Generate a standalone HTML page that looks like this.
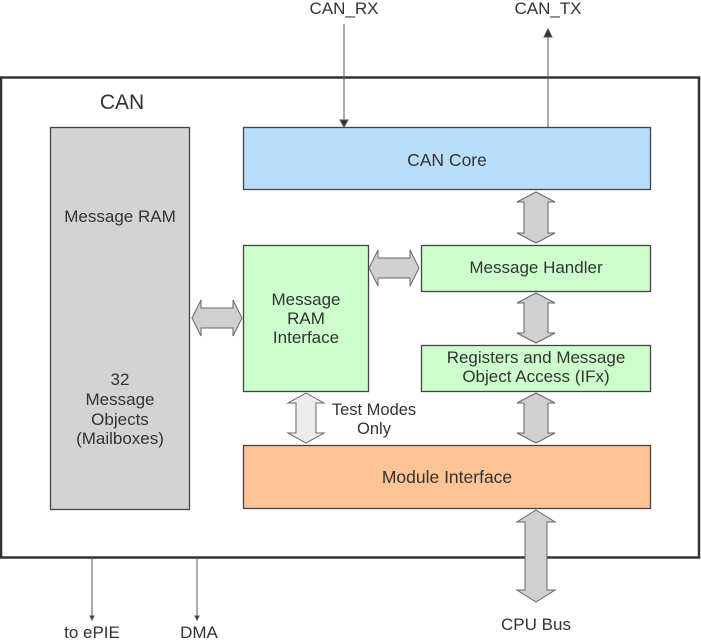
<!DOCTYPE html>
<html><head><style>body{margin:0;background:#fff}svg{display:block}text{font-family:"Liberation Sans",sans-serif;fill:#333}</style></head>
<body>
<svg width="701" height="640" viewBox="0 0 701 640" xmlns="http://www.w3.org/2000/svg">
<rect x="1" y="77.5" width="698" height="480" fill="#fff" stroke="#333" stroke-width="2.5"/>
<text x="122" y="109" font-size="21" text-anchor="middle">CAN</text>
<rect x="50.5" y="127.5" width="139" height="382" fill="#d3d3d3" stroke="#444" stroke-width="1.3"/>
<text x="120" y="222" font-size="17" text-anchor="middle">Message RAM</text>
<text x="120" y="385" font-size="17" text-anchor="middle">32</text>
<text x="120" y="405" font-size="17" text-anchor="middle">Message</text>
<text x="120" y="425" font-size="17" text-anchor="middle">Objects</text>
<text x="120" y="444" font-size="17" text-anchor="middle">(Mailboxes)</text>
<rect x="243.5" y="127.5" width="407" height="62" fill="#b8defc" stroke="#444" stroke-width="1.3"/>
<text x="447" y="166" font-size="17.5" text-anchor="middle">CAN Core</text>
<rect x="421.5" y="245.5" width="229" height="46" fill="#ccffcc" stroke="#444" stroke-width="1.3"/>
<text x="536" y="273" font-size="17" text-anchor="middle">Message Handler</text>
<rect x="243.5" y="245.5" width="125" height="146" fill="#ccffcc" stroke="#444" stroke-width="1.3"/>
<text x="306" y="305" font-size="17" text-anchor="middle">Message</text>
<text x="306" y="324" font-size="17" text-anchor="middle">RAM</text>
<text x="306" y="343" font-size="17" text-anchor="middle">Interface</text>
<rect x="421.5" y="345.5" width="229" height="46" fill="#ccffcc" stroke="#444" stroke-width="1.3"/>
<text x="536" y="363" font-size="17" text-anchor="middle">Registers and Message</text>
<text x="536" y="382" font-size="17" text-anchor="middle">Object Access (IFx)</text>
<rect x="243.5" y="445.5" width="407" height="63" fill="#ffc496" stroke="#444" stroke-width="1.3"/>
<text x="447" y="483" font-size="17.5" text-anchor="middle">Module Interface</text>
<text x="374" y="415" font-size="16.5" text-anchor="middle">Test Modes</text>
<text x="374" y="434" font-size="16.5" text-anchor="middle">Only</text>
<g fill="#d0d0d0" stroke="#666" stroke-width="1">
<polygon points="536,192 555,202 548,202 548,233 555,233 536,243 517,233 524,233 524,202 517,202"/>
<polygon points="536,293 555,303 548,303 548,333 555,333 536,343 517,333 524,333 524,303 517,303"/>
<polygon points="536,393 555,403 548,403 548,433 555,433 536,443 517,433 524,433 524,403 517,403"/>
<polygon points="536,510 555,522 547,522 547,590 555,590 536,602 517,590 525,590 525,522 517,522"/>
<polygon fill="#ececec" points="306,393 324,403 316,403 316,433 324,433 306,443 288,433 296,433 296,403 288,403"/>
<polygon points="369,268 378,250 378,258 410,258 410,250 419,268 410,286 410,278 378,278 378,286"/>
<polygon points="192,318 201,300 201,308 233,308 233,300 242,318 233,336 233,328 201,328 201,336"/>
</g>
<g stroke="#555" stroke-width="1" fill="#333">
<line x1="344" y1="24" x2="344" y2="121"/><polygon points="340,120 348,120 344,127"/>
<line x1="548" y1="127" x2="548" y2="36"/><polygon points="544,37 552,37 548,29"/>
<line x1="92" y1="558" x2="92" y2="617"/><polygon points="90,616 94,616 92,620"/>
<line x1="197" y1="558" x2="197" y2="617"/><polygon points="195,616 199,616 197,620"/>
</g>
<text x="344" y="14" font-size="17" text-anchor="middle">CAN_RX</text>
<text x="548" y="14" font-size="17" text-anchor="middle">CAN_TX</text>
<text x="92" y="638" font-size="17" text-anchor="middle">to ePIE</text>
<text x="199" y="638" font-size="17" text-anchor="middle">DMA</text>
<text x="536" y="630" font-size="17" text-anchor="middle">CPU Bus</text>
</svg>
</body></html>
